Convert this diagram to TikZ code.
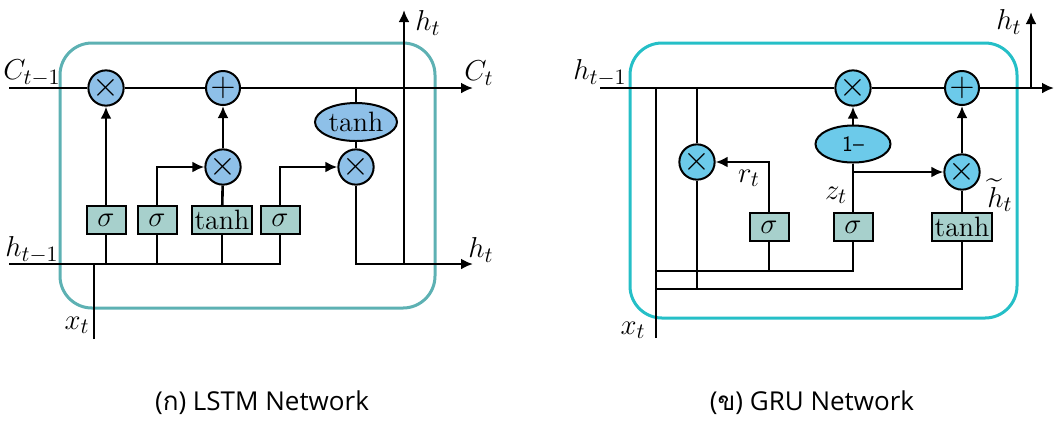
\documentclass[tikz,border=0pt]{standalone}
\usepackage{fontspec}
\usepackage{amsmath}
\newfontfamily\thaifont[Script=Thai]{Loma}
\newfontfamily\capfont{Open Sans}
\usetikzlibrary{arrows.meta,shapes.geometric}
\definecolor{lstmframe}{HTML}{5DB1B3}
\definecolor{gruframe}{HTML}{25BFC7}
\definecolor{lstmop}{HTML}{8EC0E8}
\definecolor{gruop}{HTML}{6CCAEA}
\definecolor{gatefill}{HTML}{A7D0CC}
\tikzset{
op/.style ={circle, draw, line width=1pt, fill=lstmop, minimum size=17pt, inner sep=0pt, font=\fontsize{17}{17}\selectfont},
gop/.style ={op, fill=gruop},
gate/.style ={rectangle, draw, line width=1pt, fill=gatefill, minimum height=14pt, minimum width=19.5pt, inner sep=1.2pt, font=\fontsize{14}{16}\selectfont},
squash/.style ={ellipse, draw, line width=1pt, fill=lstmop, minimum width=41pt, minimum height=19pt, inner sep=0pt, font=\fontsize{14}{16}\selectfont},
lbl/.style ={inner sep=0pt, font=\fontsize{15}{17}\selectfont},
cellframe/.style ={line width=1.5pt, rounded corners=16pt},
caption/.style ={inner sep=0pt, anchor=base, font=\capfont\fontsize{13}{16}\selectfont}}

\begin{document}
\begin{tikzpicture}[x=0.5pt, y=-0.5pt, line width=1.3pt, >={Latex[length=6pt,width=5.5pt]}]
\useasboundingbox (0,0) rectangle (1055,420);
% LSTM cell
\draw[cellframe, draw=lstmframe] (60,43) rectangle (435,308);
\coordinate (cin) at (9,88);
\coordinate (cout) at (473,88);
\coordinate (hin) at (9,264);
\coordinate (hout) at (473,264);
\coordinate (xin) at (94,339);
\coordinate (htop) at (404,10);
\node[op] (m1) at (106,88) {$\times$};
\node[op] (a1) at (223,88) {$+$};
\node[op] (m2) at (223,167) {$\times$};
\node[op] (m3) at (356,167) {$\times$};
\node[squash] (th) at (356,122) {tanh};
\node[gate] (s1) at (106,220) {$\sigma$};
\node[gate] (s2) at (157,220) {$\sigma$};
\node[gate] (tb) at (222,220) {tanh};
\node[gate] (s3) at (280,220) {$\sigma$};
\draw[->] (cin) -- (m1) -- (a1) -- (cout);
\draw (th) -- (th |- cin);
\draw (m3) -- (th);
\draw (hin) -| (s3);
\draw (xin) -- (xin |- hin);
\draw (s1 |- hin) -- (s1);
\draw (s2 |- hin) -- (s2);
\draw (tb |- hin) -- (tb);
\draw[->] (s1) -- (m1);
\draw[->] (s2) |- (m2);
\draw (tb) -- (m2);
\draw[->] (m2) -- (a1);
\draw[->] (s3) |- (m3);
\draw[->] (m3) |- (hout);
\draw[->] (htop |- hout) -- (htop);
\node[lbl] at (32,73) {$C_{t-1}$};
\node[lbl] at (479,73) {$C_t$};
\node[lbl] at (32,250) {$h_{t-1}$};
\node[lbl] at (481,250) {$h_t$};
\node[lbl] at (428,23) {$h_t$};
\node[lbl] at (77,325) {$x_t$};
% GRU cell
\draw[cellframe, draw=gruframe] (630,43) rectangle (1017,318);
\coordinate (gin) at (600,88);
\coordinate (gout) at (1054,88);
\coordinate (gtop) at (1031,12);
\coordinate (gx) at (656,338);
\coordinate (gb1) at (656,271);
\coordinate (gb2) at (656,289);
\node[gop] (gm1) at (853,88) {$\times$};
\node[gop] (ga) at (962,88) {$+$};
\node[gop] (gmr) at (697,162) {$\times$};
\node[gop] (gmz) at (962,172) {$\times$};
\node[squash, fill=gruop, minimum width=37.5pt, minimum height=18.5pt, font=\sffamily\fontsize{11}{12}\selectfont] (g1m) at (853,144) {1--};
\node[gate] (gsr) at (769,227) {$\sigma$};
\node[gate] (gsz) at (853,227) {$\sigma$};
\node[gate] (gtb) at (962,227) {tanh};
\draw[->] (gin) -- (gm1) -- (ga) -- (gout);
\draw[->] (gtop |- gin) -- (gtop);
\draw (gx) -- (gx |- gin);
\draw (gmr |- gin) -- (gmr);
\draw (gmr) -- (gmr |- gb2);
\draw (gb1) -| (gsz);
\draw (gsr) -- (gsr |- gb1);
\draw (gb2) -| (gtb);
\draw[->] (gsr) |- (gmr);
\draw (gsz) -- (g1m);
\draw[->] (g1m) -- (gm1);
\draw[->] (gsz |- gmz) -- (gmz);
\draw (gtb) -- (gmz);
\draw[->] (gmz) -- (ga);
\node[lbl] at (600,73) {$h_{t-1}$};
\node[lbl] at (1009,22) {$h_t$};
\node[lbl] at (749,178) {$r_t$};
\node[lbl] at (836,195) {$z_t$};
\node[lbl] at (1000,195) {$\widetilde{h}_t$};
\node[lbl] at (633,330) {$x_t$};
% captions
\node[caption] (capl) at (262,410) {({\thaifont ก}) LSTM Network};
\node[caption] (capg) at (812,410) {({\thaifont ข}) GRU Network};
\end{tikzpicture}
\end{document}
